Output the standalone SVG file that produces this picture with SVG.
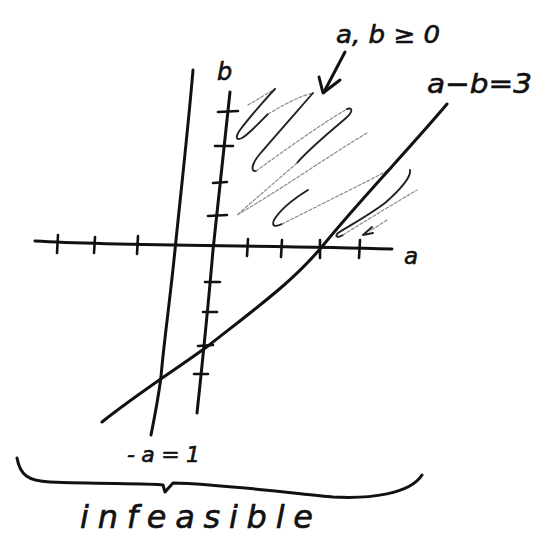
<svg xmlns="http://www.w3.org/2000/svg" width="547" height="550" viewBox="0 0 547 550">
<style>
.ink{fill:none;stroke:#111;stroke-width:3;stroke-linecap:round;stroke-linejoin:round}
.tick{fill:none;stroke:#111;stroke-width:2.6;stroke-linecap:round}
.dark{fill:none;stroke:#222;stroke-width:1.9;stroke-linecap:round;stroke-linejoin:round}
.gray{fill:none;stroke:#8a8a8a;stroke-width:1.2;stroke-dasharray:3 2;stroke-linecap:round}
.lbl{font-family:"DejaVu Sans",sans-serif;font-style:oblique;fill:#111;stroke:#111;stroke-width:0.6}
</style>
<rect width="547" height="550" fill="#fff"/>
<g id="hatching">
<path class="gray" d="M248,105 L275,89"/>
<path class="dark" d="M275,89 C272,92 252,114 240,130 C235,137 236,141 242,138 C250,133 260,122 268,114"/>
<path class="gray" d="M268,114 C285,104 300,96 313,93"/>
<path class="dark" d="M313,93 C300,108 276,135 259,155 C251,165 251,172 256,171"/>
<path class="gray" d="M256,171 C285,150 320,125 347,109"/>
<path class="dark" d="M347,109 C353,107 353,112 346,118 C330,132 310,148 297,163"/>
<path class="gray" d="M297,163 L237,215 C280,190 330,155 367,133"/>
<path class="dark" d="M308,190 C295,198 280,210 274,220 C271,227 276,227 282,224"/>
<path class="gray" d="M282,224 C320,205 360,185 393,168"/>
<path class="dark" d="M410,170 C412,176 400,190 385,203 C365,218 345,228 338,233 C334,237 338,238 343,235"/>
<path class="gray" d="M343,235 C370,218 400,200 417,190"/>
<path class="gray" d="M387,220 L370,231"/>
<path class="dark" d="M372,227 L363,235 L373,233"/>
</g>
<g id="a-axis">
<path class="ink" d="M35,241 C120,246 250,245 392,249"/>
<path class="tick" d="M58,235 L57,253 M95,237 L94,253 M138,236 L137,254 M248,239 L247,256 M282,240 L281,257 M320,240 L320,258 M360,240 L359,258"/>
</g>
<g id="b-axis">
<path class="ink" d="M230,92 L213,250 Q207,320 197,413"/>
<path class="tick" d="M218,112 L238,111 M215,146 L233,146 M213,183 L227,182 M208,216 L227,215 M205,282 L220,282 M203,312 L217,312 M198,346 L213,345 M194,374 L208,374"/>
</g>
<g id="line-neg-a-eq-1">
<path class="ink" d="M193,70 C188,130 180,200 175,250 C170,300 163,350 161,377 C158,400 154,420 151,435"/>
</g>
<g id="line-a-minus-b-eq-3">
<path class="ink" d="M447,104 C410,148 360,200 325,243 C295,280 260,305 208,346 C175,370 140,392 102,422"/>
</g>
<g id="pointer">
<path class="ink" d="M345,52 L324,92"/>
<path class="ink" d="M319,77 L323,93 L340,80" stroke-width="3.5"/>
</g>
<g id="brace">
<path class="ink" d="M17,458 C20,475 28,481 50,482 C100,484 150,483 163,485 L165,492 L173,483 C220,484 300,494 333,497 C370,499 410,494 422,475" stroke-width="2.6"/>
</g>
<g id="labels">
<text class="lbl" x="217" y="80" font-size="24">b</text>
<text class="lbl" x="404" y="264" font-size="23">a</text>
<text class="lbl" x="336" y="43" font-size="24" textLength="104" lengthAdjust="spacingAndGlyphs">a, b ≥ 0</text>
<text class="lbl" x="427" y="93" font-size="27" textLength="105" lengthAdjust="spacingAndGlyphs">a−b=3</text>
<text class="lbl" x="127" y="462" font-size="22" textLength="73" lengthAdjust="spacing">-a=1</text>
<text class="lbl" x="80" y="528" font-size="32" textLength="233" lengthAdjust="spacing">infeasible</text>
</g>
</svg>
